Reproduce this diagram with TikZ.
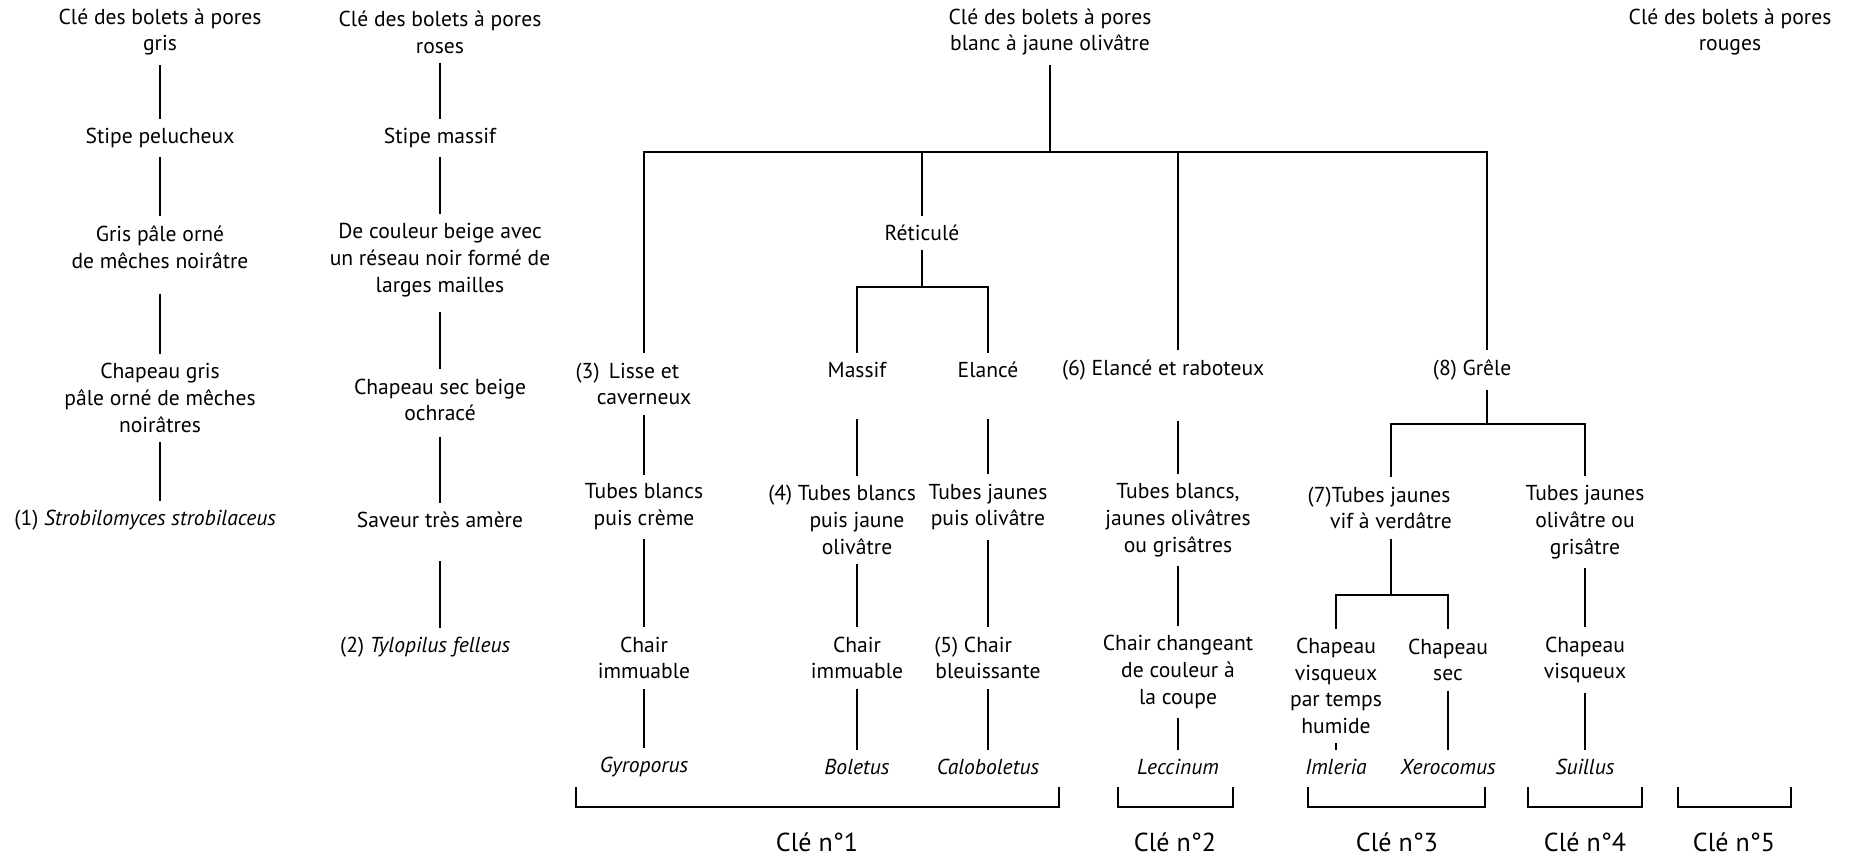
\documentclass[tikz,border=0pt]{standalone}
\usepackage{fontspec}
\setmainfont{PT Sans}

\begin{document}
\begin{tikzpicture}[x=0.5pt, y=-0.5pt, line width=1.35pt,
  every node/.style={font=\fontsize{10.8}{13.4}\selectfont, align=center,
    inner xsep=2pt, inner ysep=4pt},
  genre/.style={font=\fontsize{10.8}{13.4}\selectfont\itshape},
  cle/.style={font=\fontsize{13}{15}\selectfont}]
  \useasboundingbox (0,0) rectangle (1849,855);

  % Pores gris
  \node (gris0) at (160,32) {Clé des bolets à pores\\gris};
  \node (gris1) at (160,138) {Stipe pelucheux};
  \node (gris2) at (160,247) {Gris pâle orné\\de mêches noirâtre};
  \node (gris3) at (160,398) {Chapeau gris\\pâle orné de mêches\\noirâtres};
  \node (gris4) at (160,520) {\llap{(1) }\textit{Strobilomyces strobilaceus}};
  \draw (gris0) -- (gris1);
  \draw (gris1) -- (gris2);
  \draw[shorten <=8pt] (gris2) -- (gris3);
  \draw (gris3) -- (gris4);

  % Pores roses
  \node (rose0) at (440,32) {Clé des bolets à pores\\roses};
  \node (rose1) at (440,138) {Stipe massif};
  \node (rose2) at (440,260) {De couleur beige avec\\un réseau noir formé de\\larges mailles};
  \node (rose3) at (440,400) {Chapeau sec beige\\ochracé};
  \node (rose4) at (440,520) {Saveur très amère};
  \node (rose5) at (440,647) {\llap{(2) }\textit{Tylopilus felleus}};
  \draw (rose0) -- (rose1);
  \draw (rose1) -- (rose2);
  \draw[shorten <=3pt] (rose2) -- (rose3);
  \draw[shorten <=3pt] (rose3) -- (rose4);
  \draw[shorten <=12pt] (rose4) -- (rose5);

  % Pores blanc a jaune olivatre
  \node (blanc) at (1050,32) {Clé des bolets à pores\\blanc à jaune olivâtre};
  \coordinate (fork) at (1050,152);
  \node (lisse) at (644,384) {\llap{(3)\ \,}Lisse et\\caverneux};
  \node (reti) at (922,233) {Réticulé};
  \coordinate (forkreti) at (922,287);
  \node (massif) at (857,370) {Massif};
  \node (elance) at (988,370) {Elancé};
  \node (rabot) at (1178,370) {\llap{(6) }Elancé et raboteux};
  \node (grele) at (1487,370) {\llap{(8) }Grêle};
  \coordinate (forkgrele) at (1487,424);
  \draw (blanc) -- (fork);
  \draw (lisse) |- (fork) -| (grele);
  \draw (fork -| reti) -- (reti);
  \draw (fork -| rabot) -- (rabot);
  \draw (reti) -- (forkreti);
  \draw (massif) |- (forkreti) -| (elance);
  \draw (grele) -- (forkgrele);

  % Tubes
  \node (tubesA) at (644,507) {Tubes blancs\\puis crème};
  \node (tubesB) at (857,520) {\llap{(4) }Tubes blancs\\puis jaune\\olivâtre};
  \node (tubesC) at (988,507) {Tubes jaunes\\puis olivâtre};
  \node (tubesD) at (1178,520) {Tubes blancs,\\jaunes olivâtres\\ou grisâtres};
  \node (tubesE) at (1391,508) {\llap{(7)}Tubes jaunes\\vif à verdâtre};
  \node (tubesF) at (1585,522) {Tubes jaunes\\olivâtre ou\\grisâtre};
  \coordinate (forktubes) at (1391,595);
  \draw (lisse) -- (tubesA);
  \draw[shorten <=16pt] (massif) -- (tubesB);
  \draw[shorten <=16pt] (elance) -- (tubesC);
  \draw[shorten <=16pt] (rabot) -- (tubesD);
  \draw (tubesE) |- (forkgrele) -| (tubesF);
  \draw (tubesE) -- (forktubes);

  % Chair et chapeau
  \node (chairA) at (644,658) {Chair\\immuable};
  \node (chairB) at (857,658) {Chair\\immuable};
  \node (chairC) at (988,658) {\llap{(5) }Chair\\bleuissante};
  \node (chairD) at (1178,672) {Chair changeant\\de couleur à\\la coupe};
  \node (chapV) at (1336,686) {Chapeau\\visqueux\\par temps\\humide};
  \node (chapS) at (1448,660) {Chapeau\\sec};
  \node (chapF) at (1585,660) {Chapeau\\visqueux};
  \draw (tubesA) -- (chairA);
  \draw (tubesB) -- (chairB);
  \draw (tubesC) -- (chairC);
  \draw (tubesD) -- (chairD);
  \draw (chapV) |- (forktubes) -| (chapS);
  \draw (tubesF) -- (chapF);

  % Genres
  \node[genre] (gyro) at (644,767) {Gyroporus};
  \node[genre] (bolet) at (857,767) {Boletus};
  \node[genre] (calo) at (988,767) {Caloboletus};
  \node[genre] (lecc) at (1178,767) {Leccinum};
  \node[genre] (imler) at (1336,767) {Imleria};
  \node[genre] (xero) at (1448,767) {Xerocomus};
  \node[genre] (suil) at (1585,767) {Suillus};
  \draw (chairA) -- (gyro);
  \draw (chairB) -- (bolet);
  \draw (chairC) -- (calo);
  \draw (chairD) -- (lecc);
  \draw (chapV) -- (imler);
  \draw (chapS) -- (xero);
  \draw (chapF) -- (suil);

  % Pores rouges
  \node (rouge0) at (1730,32) {Clé des bolets à pores\\rouges};

  % Cles
  \draw (576,787) |- (1059,807) -- (1059,787);
  \draw (1118,787) |- (1233,807) -- (1233,787);
  \draw (1308,787) |- (1485,807) -- (1485,787);
  \draw (1528,787) |- (1642,807) -- (1642,787);
  \draw (1678,787) |- (1791,807) -- (1791,787);
  \node[cle] (cle1) at (817,842) {Clé n°1};
  \node[cle] (cle2) at (1175,842) {Clé n°2};
  \node[cle] (cle3) at (1397,842) {Clé n°3};
  \node[cle] (cle4) at (1585,842) {Clé n°4};
  \node[cle] (cle5) at (1734,842) {Clé n°5};
\end{tikzpicture}
\end{document}
